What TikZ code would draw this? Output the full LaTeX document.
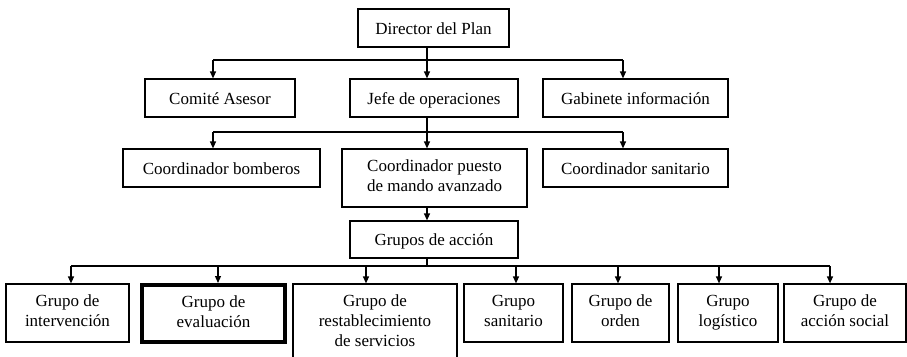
\documentclass[tikz,border=0pt]{standalone}
\usepackage{fontspec}
\setmainfont{Liberation Serif}
\usetikzlibrary{arrows.meta}
\begin{document}
\begin{tikzpicture}[x=1pt,y=-1pt,
  box/.style={draw, line width=1.2pt, align=center, inner sep=0pt, font=\fontsize{17}{20}\selectfont,
    execute at begin node=\rule[-4pt]{0pt}{20pt}, execute at end node=\rule[-4pt]{0pt}{20pt}},
  thickbox/.style={box, line width=4pt},
  ln/.style={line width=1.2pt},
  arr/.style={line width=1.2pt, -{Triangle[width=6pt,length=7pt]}}]
\useasboundingbox (0,0) rectangle (907,356);
\clip (0,0) rectangle (907,356);
% level 0
\node[box, minimum width=151pt, minimum height=38pt] (dir) at (433.5,28) {Director del Plan};
% level 1
\node[box, minimum width=150pt, minimum height=38pt] (comite) at (220,98) {Comité Asesor};
\node[box, minimum width=168pt, minimum height=38pt] (jefe) at (434,98) {Jefe de operaciones};
\node[box, minimum width=185pt, minimum height=38pt] (gab) at (635.5,98) {Gabinete información};
% level 2
\node[box, minimum width=197pt, minimum height=38pt] (bomb) at (221.5,168) {Coordinador bomberos};
\node[box, minimum width=185pt, minimum height=58pt] (puesto) at (434.5,178) {Coordinador puesto\\de mando avanzado};
\node[box, minimum width=185pt, minimum height=38pt] (csan) at (635.5,168) {Coordinador sanitario};
% level 3
\node[box, minimum width=168pt, minimum height=37pt] (grupos) at (434,239.5) {Grupos de acción};
% level 4
\node[box, minimum width=123pt, minimum height=58pt] (interv) at (67.5,313) {Grupo de\\intervención};
\node[thickbox, minimum width=143pt, minimum height=57pt] (eval) at (213.5,313.5) {Grupo de\\evaluación};
\node[box, minimum width=164pt, minimum height=78pt] (rest) at (375,323) {Grupo de\\restablecimiento\\de servicios};
\node[box, minimum width=99pt, minimum height=58pt] (gsan) at (513.5,313) {Grupo\\sanitario};
\node[box, minimum width=97pt, minimum height=58pt] (orden) at (620.5,313) {Grupo de\\orden};
\node[box, minimum width=100pt, minimum height=58pt] (logis) at (728,313) {Grupo\\logístico};
\node[box, minimum width=122pt, minimum height=58pt] (social) at (845,313) {Grupo de\\acción social};
% bus 1
\coordinate (a1) at (213,60);
\coordinate (a2) at (427,60);
\coordinate (a3) at (623,60);
\draw[ln] (a1) -- (a3);
\draw[ln] (a2 |- dir.south) -- (a2);
\draw[arr] (a1) -- (a1 |- comite.north);
\draw[arr] (a2) -- (a2 |- jefe.north);
\draw[arr] (a3) -- (a3 |- gab.north);
% bus 2
\coordinate (b1) at (213,132);
\coordinate (b2) at (427,132);
\coordinate (b3) at (623,132);
\draw[ln] (b1) -- (b3);
\draw[ln] (b2 |- jefe.south) -- (b2);
\draw[arr] (b1) -- (b1 |- bomb.north);
\draw[arr] (b2) -- (b2 |- puesto.north);
\draw[arr] (b3) -- (b3 |- csan.north);
% puesto -> grupos
\draw[arr] (b2 |- puesto.south) -- (b2 |- grupos.north);
% bus 3
\coordinate (g0) at (427,266);
\coordinate (g1) at (71,266);
\coordinate (g2) at (218,266);
\coordinate (g3) at (366,266);
\coordinate (g4) at (516,266);
\coordinate (g5) at (618,266);
\coordinate (g6) at (719,266);
\coordinate (g7) at (830,266);
\draw[ln] (g1) -- (g7);
\draw[ln] (g0 |- grupos.south) -- (g0);
\draw[arr] (g1) -- (g1 |- interv.north);
\draw[arr] (g2) -- (g2 |- eval.north);
\draw[arr] (g3) -- (g3 |- rest.north);
\draw[arr] (g4) -- (g4 |- gsan.north);
\draw[arr] (g5) -- (g5 |- orden.north);
\draw[arr] (g6) -- (g6 |- logis.north);
\draw[arr] (g7) -- (g7 |- social.north);
\end{tikzpicture}
\end{document}
